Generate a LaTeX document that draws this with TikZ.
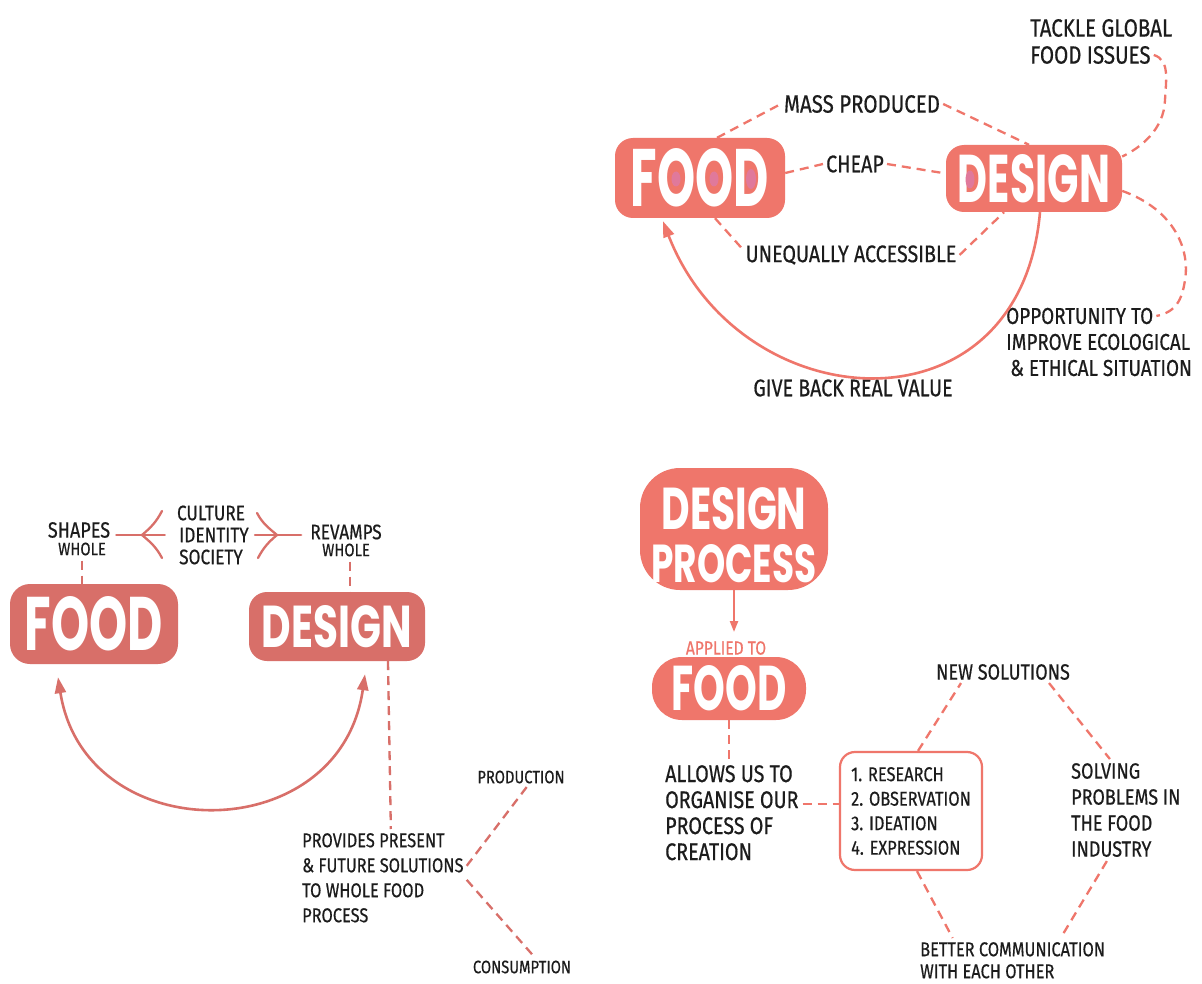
\documentclass[tikz,border=0pt]{standalone}
\usepackage{fontspec}
\usepackage{graphicx}
\usetikzlibrary{arrows.meta,calc}

% Lettering: a narrowed marker-like sans for the notes, a heavy sans for the blocks
\newfontfamily\handfont[FakeStretch=0.82,FakeBold=0.5]{Fira Sans}
\newfontfamily\blockfont{Poppins}

\definecolor{salmon}{HTML}{EF766B}
\definecolor{rosewood}{HTML}{D86F69}
\definecolor{counter}{HTML}{E0799B}
\definecolor{ink}{HTML}{1C1C1C}

% white block lettering squeezed to a given width and height
\newcommand{\blockword}[3]{\resizebox{#1}{#2}{\blockfont\bfseries #3}}
\newcommand{\handsize}[2]{\handfont\fontsize{#1}{#2}\selectfont}

\begin{document}
\begin{tikzpicture}[x=1pt,y=1pt,
  note/.style={font=\handsize{24}{26}, text=ink, inner sep=0pt, align=left},
  blockbox/.style={fill=#1, text=white, rounded corners=18pt, inner sep=0pt, align=center},
  dashlink/.style={draw=#1, line width=2.3pt, dash pattern=on 9pt off 6pt},
  bigarrow/.style={draw=#1, line width=2.6pt, -{Triangle[length=16pt,width=11pt]}},
  twoarrow/.style={draw=#1, line width=2.6pt, {Triangle[length=16pt,width=11pt]}-{Triangle[length=16pt,width=11pt]}},
  fork/.style={draw=rosewood, line width=2.3pt, line cap=round},
  pinkdot/.style={fill=counter},
]
\useasboundingbox (0,0) rectangle (1202,-984);
\fill[white] (0,0) rectangle (1202,-984);

% ---------------- food & design: the problem ----------------
\node[blockbox=salmon, minimum width=170pt, minimum height=80pt] (food1) at (700,-178)
  {\blockword{138pt}{58pt}{FOOD}};
\node[blockbox=salmon, minimum width=176pt, minimum height=67pt] (design1) at (1034,-178.5)
  {\blockword{152pt}{48pt}{DESIGN}};
% pink fill inside the letter counters
\fill[pinkdot] ($(food1.center)+(-24,-1)$) ellipse (4.5pt and 7.5pt);
\fill[pinkdot] ($(food1.center)+(14,-1)$) ellipse (4.5pt and 7.5pt);
\fill[pinkdot] ($(food1.center)+(51,-1)$) ellipse (5pt and 10pt);
\fill[pinkdot] ($(design1.center)+(-64,-1)$) ellipse (4.5pt and 9pt);

\node[note, font=\handsize{25}{27}, anchor=west] (tackleA) at (1030,-28) {TACKLE GLOBAL};
\node[note, font=\handsize{25}{27}, anchor=west] (tackleB) at (1030,-55) {FOOD ISSUES};
\node[note, font=\handsize{25}{26}] (massp) at (862,-104) {MASS PRODUCED};
\node[note] (cheap) at (855,-164) {CHEAP};
\node[note] (uneq) at (851,-255) {UNEQUALLY ACCESSIBLE};
\node[note, font=\handsize{23}{26}, anchor=west] (opp1) at (1006,-316) {OPPORTUNITY TO};
\node[note, font=\handsize{23}{26}, anchor=west] (opp2) at (1006,-342) {IMPROVE ECOLOGICAL};
\node[note, font=\handsize{23}{26}, anchor=west] (opp3) at (1010,-368) {\& ETHICAL SITUATION};
\node[note, font=\handsize{24}{26}] (give) at (853,-388) {GIVE BACK REAL VALUE};

\draw[dashlink=salmon] ([xshift=17pt]food1.north) -- ([xshift=-3pt]massp.west);
\draw[dashlink=salmon] ([xshift=3pt]massp.east) -- ([xshift=-5pt]design1.north);
\draw[dashlink=salmon] ([yshift=5pt]food1.east) -- ([xshift=-3pt]cheap.west);
\draw[dashlink=salmon] ([xshift=3pt]cheap.east) -- ([yshift=5pt]design1.west);
\draw[dashlink=salmon] ([xshift=15pt]food1.south) -- ([xshift=-3pt,yshift=6pt]uneq.west);
\draw[dashlink=salmon] ([xshift=3pt]uneq.east) -- ([xshift=-30pt]design1.south);
\draw[dashlink=salmon] ([xshift=3pt]tackleB.east) .. controls (1170,-60) and (1166,-80) .. (1165,-100)
      .. controls (1164,-130) and (1140,-148) .. (design1.14);
\draw[dashlink=salmon] (design1.-8) .. controls (1175,-210) and (1190,-250) .. (1185,-280)
      .. controls (1182,-300) and (1176,-312) .. ([xshift=3pt]opp1.east);
\draw[bigarrow=salmon] ([xshift=6pt]design1.south) .. controls (1020,-440) and (740,-420) .. ([xshift=-37pt,yshift=-3pt]food1.south);

% ---------------- food & design: the exchange ----------------
\node[blockbox=rosewood, rounded corners=20pt, minimum width=168pt, minimum height=80pt] (food2) at (94,-624) {\blockword{138pt}{54pt}{FOOD}};
\node[blockbox=rosewood, minimum width=176pt, minimum height=69pt] (design2) at (337,-626.5) {\blockword{150pt}{42pt}{DESIGN}};

\node[note, font=\handsize{22}{22}] (shapes) at (79,-530) {SHAPES};
\node[note, font=\handsize{18}{18}] (shapesw) at (82,-549) {WHOLE};
\node[note, font=\handsize{21}{22}] (culture) at (211,-513) {CULTURE};
\node[note, font=\handsize{21}{22}] (identity) at (214,-535) {IDENTITY};
\node[note, font=\handsize{21}{22}] (society) at (211,-557) {SOCIETY};
\node[note, font=\handsize{21}{22}] (revamps) at (346,-532) {REVAMPS};
\node[note, font=\handsize{18}{18}] (revampsw) at (346,-550) {WHOLE};

% three-pronged brackets round the shared themes
\coordinate (vL) at (142,-535);
\coordinate (bLa) at (162,-511);
\coordinate (bLb) at (162,-558);
\draw[fork] ($(vL -| shapes.east)+(6,0)$) -- ($(vL -| culture.west)+(-12,0)$);
\draw[fork] (vL) to[out=40,in=-118] (bLa);
\draw[fork] (vL) to[out=-40,in=118] (bLb);
\coordinate (vR) at (277,-535);
\coordinate (bRa) at (257,-513);
\coordinate (bRb) at (258,-558);
\draw[fork] (bRa) to[out=-62,in=140] (vR);
\draw[fork] (bRb) to[out=62,in=-140] (vR);
\draw[fork] ($(vR -| identity.east)+(6,0)$) -- ($(vR -| revamps.west)+(-9,0)$);

\draw[dashlink=rosewood] ([yshift=-5pt]shapesw.south) -- (shapesw.south |- food2.north);
\draw[dashlink=rosewood] ([xshift=4pt,yshift=-5pt]revampsw.south) -- ([xshift=4pt]revampsw.south |- design2.north);
\draw[twoarrow=rosewood] ([xshift=-36pt,yshift=-13pt]food2.south) .. controls (85,-850) and (340,-850) .. ([xshift=28pt,yshift=-13pt]design2.south);

\node[note, font=\handsize{20}{25}, anchor=north west] (provides) at (302,-833)
  {PROVIDES PRESENT\\\& FUTURE SOLUTIONS\\TO WHOLE FOOD\\PROCESS};
\node[note, font=\handsize{18}{18}] (prod) at (521,-777) {PRODUCTION};
\node[note, font=\handsize{18}{18}] (cons) at (522,-967) {CONSUMPTION};

\draw[dashlink=rosewood] ([xshift=51pt]design2.south) -- ([xshift=8pt,yshift=4pt]provides.north);
\draw[dashlink=rosewood] ([xshift=3pt,yshift=12pt]provides.east) -- ([xshift=6pt,yshift=-3pt]prod.south);
\draw[dashlink=rosewood] ([xshift=3pt,yshift=-2pt]provides.east) -- ([xshift=11pt,yshift=5pt]cons.north);

% ---------------- design process ----------------
\node[blockbox=salmon, rounded corners=40pt, minimum width=188pt, minimum height=122pt,
      font=\fontsize{10}{10}\selectfont] (dproc) at (734,-529)
  {\raisebox{0pt}[54pt][0pt]{\blockword{145pt}{42pt}{DESIGN}}\\[14pt]\blockword{165pt}{38pt}{PROCESS}};
\node[font=\handsize{19}{20}, text=salmon, inner sep=0pt] (applied) at (726,-648) {APPLIED TO};
\node[blockbox=salmon, rounded corners=30pt, minimum width=154pt, minimum height=63pt] (food3) at (729,-688.5) {\blockword{115pt}{45pt}{FOOD}};
\draw[draw=salmon, line width=2.2pt, -{Triangle[length=11pt,width=8pt]}] (dproc.south) -- ([yshift=9pt]dproc.south |- applied.north);

\node[note, font=\handsize{24}{26}, anchor=north west] (allows) at (665,-765)
  {ALLOWS US TO\\ORGANISE OUR\\PROCESS OF\\CREATION};
\node[draw=salmon, line width=2.2pt, rounded corners=15pt, minimum width=142pt, minimum height=118pt,
      note, font=\handsize{20}{24.5}] (steps) at (911,-811)
  {1. RESEARCH\\2. OBSERVATION\\3. IDEATION\\4. EXPRESSION};
\node[note, font=\handsize{22}{26}] (newsol) at (1003,-672) {NEW SOLUTIONS};
\node[note, font=\handsize{22}{26}, anchor=north west] (solving) at (1071,-763)
  {SOLVING\\PROBLEMS IN\\THE FOOD\\INDUSTRY};
\node[note, font=\handsize{20}{22}, anchor=north west] (better) at (920,-942)
  {BETTER COMMUNICATION\\WITH EACH OTHER};

\draw[dashlink=salmon] (food3.south) -- ([yshift=4pt]food3.south |- allows.north);
\coordinate (lnk) at ([xshift=4pt,yshift=9pt]allows.east);
\draw[dashlink=salmon] (lnk) -- (lnk -| steps.west);
\draw[dashlink=salmon] ([xshift=7pt]steps.north) -- ([xshift=-42pt,yshift=-3pt]newsol.south);
\draw[dashlink=salmon] ([xshift=46pt,yshift=-3pt]newsol.south) -- ([xshift=-16pt,yshift=4pt]solving.north);
\draw[dashlink=salmon] ([xshift=-19pt,yshift=-4pt]solving.south) -- ([xshift=48pt,yshift=4pt]better.north);
\draw[dashlink=salmon] ([xshift=6pt]steps.south) -- ([xshift=-60pt,yshift=4pt]better.north);
\end{tikzpicture}
\end{document}
